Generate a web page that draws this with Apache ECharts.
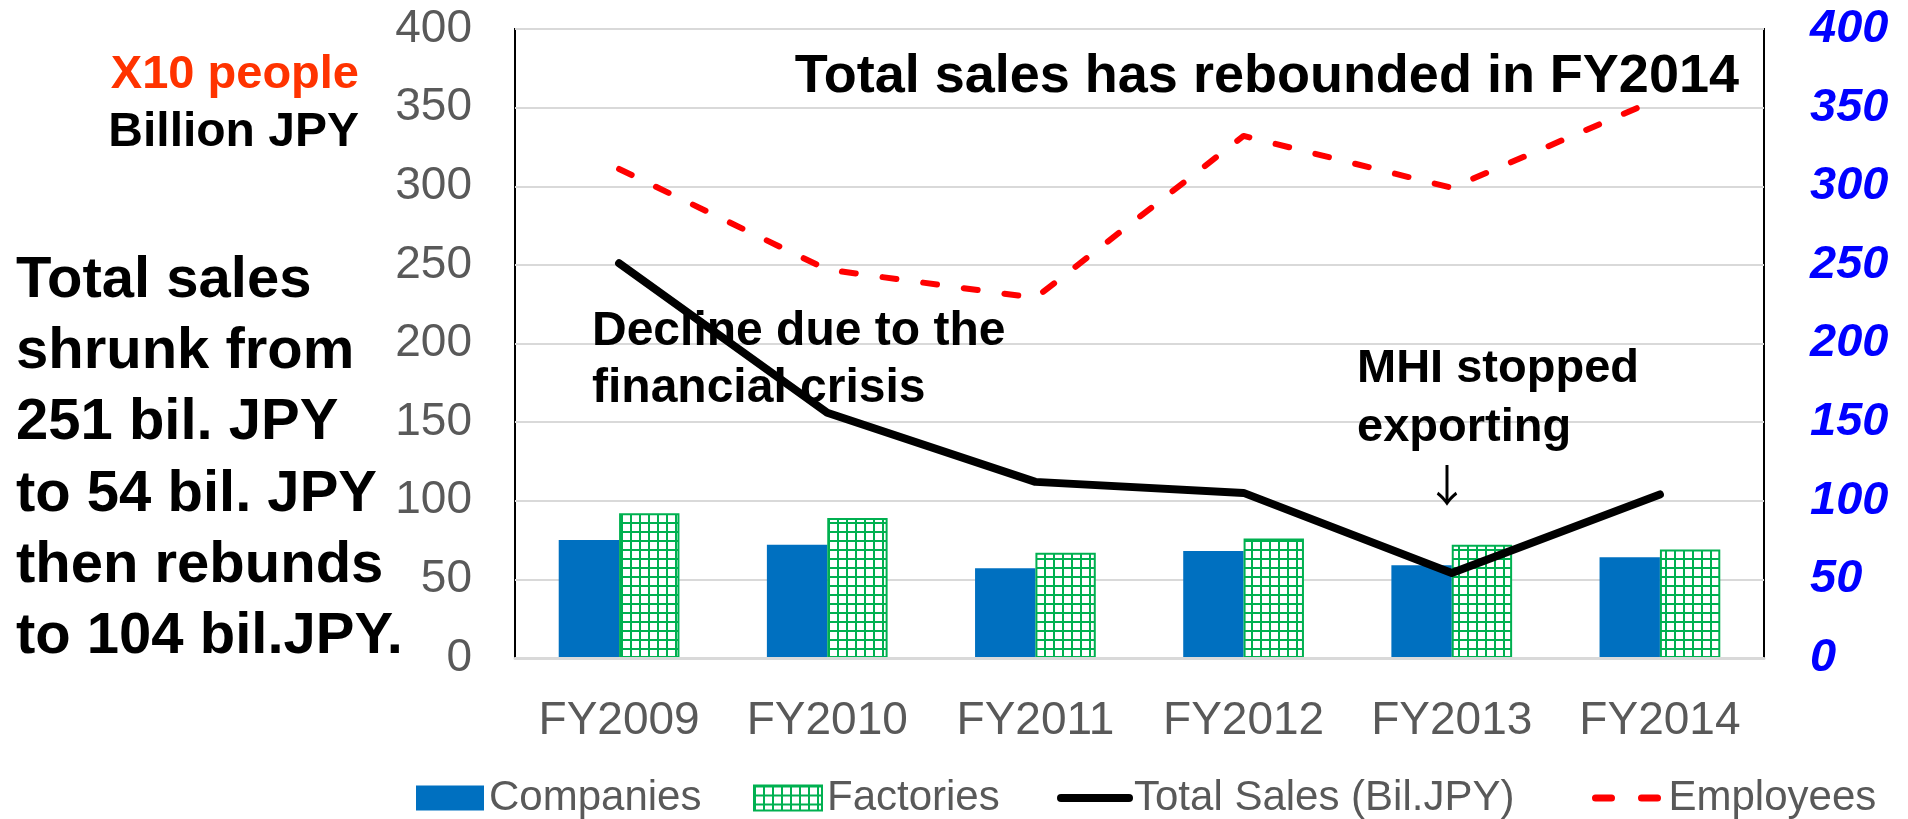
<!DOCTYPE html>
<html>
<head>
<meta charset="utf-8">
<script src="https://cdn.jsdelivr.net/npm/echarts@6/dist/echarts.min.js"></script>
<style>
  html, body { margin: 0; padding: 0; background: #fff; }
  #chart { width: 1908px; height: 819px; }
</style>
</head>
<body>
<div id="chart"></div>
<script>
// ---- data ----
const categories = ['FY2009', 'FY2010', 'FY2011', 'FY2012', 'FY2013', 'FY2014'];
const companies  = [75, 72, 57, 68, 59, 64];
const factories  = [92, 89, 67, 76, 72, 69];
const totalSales = [251, 156, 112, 105, 54, 104];
const employees  = [311, 247, 229, 332, 299, 356];
const seriesNames = ['Companies', 'Factories', 'Total Sales (Bil.JPY)', 'Employees'];
const axisMin = 0, axisMax = 400, axisStep = 50;

const unitLabels = ['X10 people', 'Billion JPY'];
const leftNote = ['Total sales', 'shrunk from', '251 bil. JPY', 'to 54 bil. JPY', 'then rebunds', 'to 104 bil.JPY.'];
const headline = 'Total sales has rebounded in FY2014';
const declineNote = ['Decline due to the', 'financial crisis'];
const mhiNote = ['MHI stopped', 'exporting'];
const arrowGlyph = '\u2193';

// ---- styling ----
const GRAY = '#595959';
const FONT = '"Liberation Sans", Arial, sans-serif';

function gridPattern() {
  const c = document.createElement('canvas');
  c.width = 9; c.height = 9;
  const g = c.getContext('2d');
  g.fillStyle = '#ffffff';
  g.fillRect(0, 0, 9, 9);
  g.fillStyle = '#00B050';
  g.fillRect(0, 0, 2, 9);
  g.fillRect(0, 0, 9, 2);
  return c;
}

function txt(text, x, y, font, fill, align) {
  return {
    type: 'text', z: 1, silent: true,
    style: {
      text: text, x: x, y: y, font: font, fill: fill,
      textAlign: align, align: align,
      textVerticalAlign: 'middle', verticalAlign: 'middle'
    }
  };
}

const graphics = [];
graphics.push(txt(unitLabels[0], 359, 75, 'bold 47px ' + FONT, '#FF3300', 'right'));
graphics.push(txt(unitLabels[1], 359, 133, 'bold 48px ' + FONT, '#000000', 'right'));
leftNote.forEach(function (s, i) {
  graphics.push(txt(s, 16, 281 + i * 71.2, 'bold 58px ' + FONT, '#000000', 'left'));
});
graphics.push(txt(headline, 1739, 77, 'bold 54px ' + FONT, '#000000', 'right'));
declineNote.forEach(function (s, i) {
  graphics.push(txt(s, 592, 332 + i * 57, 'bold 48px ' + FONT, '#000000', 'left'));
});
mhiNote.forEach(function (s, i) {
  graphics.push(txt(s, 1357, 369 + i * 59, 'bold 47px ' + FONT, '#000000', 'left'));
});
graphics.push(txt(arrowGlyph, 1447, 485, '44px "Noto Sans CJK JP", "DejaVu Sans", sans-serif', '#000000', 'center'));

const legendText = { color: GRAY, fontSize: 42, fontFamily: FONT };
function legendAt(name, left, extra) {
  return Object.assign({
    data: [name], left: left, top: 772, itemWidth: 68, itemHeight: 25,
    textStyle: legendText, selectedMode: false
  }, extra || {});
}

const option = {
  animation: false,
  backgroundColor: '#ffffff',
  grid: {
    left: 515, right: 144, top: 29, bottom: 161,
    show: true, borderColor: '#000000', borderWidth: 2, backgroundColor: 'transparent'
  },
  legend: [
    legendAt(seriesNames[0], 411, { icon: 'rect' }),
    legendAt(seriesNames[1], 748, { icon: 'rect' }),
    legendAt(seriesNames[2], 1052, {
      itemStyle: { opacity: 0 },
      lineStyle: { color: '#000000', width: 8, cap: 'round', opacity: 1 }
    }),
    legendAt(seriesNames[3], 1587, {
      itemStyle: { opacity: 0 },
      lineStyle: { color: '#FF0000', width: 7, type: [16, 30], cap: 'round', opacity: 1 }
    })
  ],
  xAxis: {
    type: 'category',
    data: categories,
    axisLine: { show: true, lineStyle: { color: '#D9D9D9', width: 3 } },
    axisTick: { show: false },
    axisLabel: { color: GRAY, fontSize: 46, fontFamily: FONT, margin: 40, interval: 0 },
    z: 5
  },
  yAxis: [
    {
      type: 'value', min: axisMin, max: axisMax, interval: axisStep,
      axisLine: { show: false }, axisTick: { show: false },
      splitLine: { show: true, lineStyle: { color: '#D9D9D9', width: 2 } },
      axisLabel: { color: GRAY, fontSize: 46, fontFamily: FONT, margin: 43 }
    },
    {
      type: 'value', min: axisMin, max: axisMax, interval: axisStep,
      position: 'right',
      axisLine: { show: false }, axisTick: { show: false },
      splitLine: { show: false },
      axisLabel: { color: '#0000FF', fontSize: 47, fontWeight: 'bold', fontStyle: 'italic', fontFamily: FONT, margin: 46 }
    }
  ],
  graphic: { elements: graphics },
  series: [
    {
      name: seriesNames[0], type: 'bar', data: companies, yAxisIndex: 0,
      barGap: '0%', barCategoryGap: '42%',
      itemStyle: { color: '#0070C0' }
    },
    {
      name: seriesNames[1], type: 'bar', data: factories, yAxisIndex: 0,
      barGap: '0%', barCategoryGap: '42%',
      itemStyle: { color: { image: gridPattern(), repeat: 'repeat' }, borderColor: '#00B050', borderWidth: 2 }
    },
    {
      name: seriesNames[2], type: 'line', data: totalSales, yAxisIndex: 0,
      symbol: 'none', z: 4,
      lineStyle: { color: '#000000', width: 8, cap: 'round', join: 'round' },
      itemStyle: { color: '#000000' }
    },
    {
      name: seriesNames[3], type: 'line', data: employees, yAxisIndex: 1,
      symbol: 'none', z: 4,
      lineStyle: { color: '#FF0000', width: 6, type: [14, 27], cap: 'round', join: 'round' },
      itemStyle: { color: '#FF0000' }
    }
  ]
};

const chart = echarts.init(document.getElementById('chart'), null, { renderer: 'canvas' });
chart.setOption(option);
</script>
</body>
</html>
